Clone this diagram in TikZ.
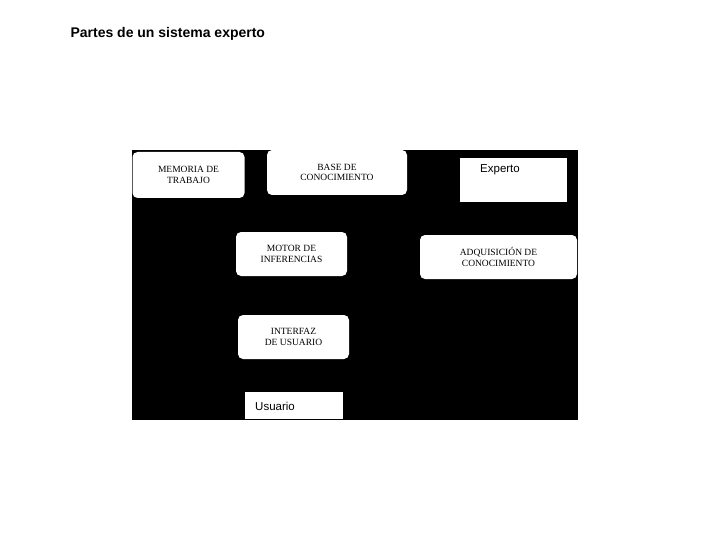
\documentclass[tikz,border=0pt]{standalone}
\usepackage{fontspec}
\setmainfont{Liberation Serif}
\newfontfamily\sans{Liberation Sans}
\begin{document}
\begin{tikzpicture}[x=1pt,y=-1pt,
  rbox/.style={fill=white,rounded corners=5pt,align=center,font=\fontsize{9.5}{10.5}\selectfont,inner sep=0pt},
  sbox/.style={fill=white,inner sep=0pt}]
\useasboundingbox (0,0) rectangle (720,540);
\node[anchor=west,font=\sans\bfseries\fontsize{14}{16}\selectfont] (title) at (67,34) {Partes de un sistema experto};
\fill[black] (132,150) rectangle (578,420);
\node[rbox,minimum width=112pt,minimum height=46pt] (mem) at (188.5,175) {MEMORIA DE\\TRABAJO};
\node[rbox,minimum width=140pt,minimum height=45pt] (base) at (337,172.5) {BASE DE\\CONOCIMIENTO};
\node[sbox,minimum width=107pt,minimum height=44pt] (exp) at (513.5,180) {};
\node[anchor=north west,font=\sans\fontsize{11.5}{13}\selectfont,inner sep=0pt] (expt) at (480,164) {Experto};
\node[rbox,minimum width=111pt,minimum height=44pt] (mot) at (291.5,254) {MOTOR DE\\INFERENCIAS};
\node[rbox,minimum width=157pt,minimum height=44pt] (adq) at (498.5,257) {ADQUISICIÓN DE\\CONOCIMIENTO};
\node[rbox,minimum width=111pt,minimum height=44pt] (int) at (293.5,337) {INTERFAZ\\DE USUARIO};
\node[sbox,minimum width=98pt,minimum height=27pt] (usu) at (294,405) {};
\node[anchor=west,font=\sans\fontsize{11.5}{13}\selectfont,inner sep=0pt] (usut) at (255,406) {Usuario};
\end{tikzpicture}
\end{document}
